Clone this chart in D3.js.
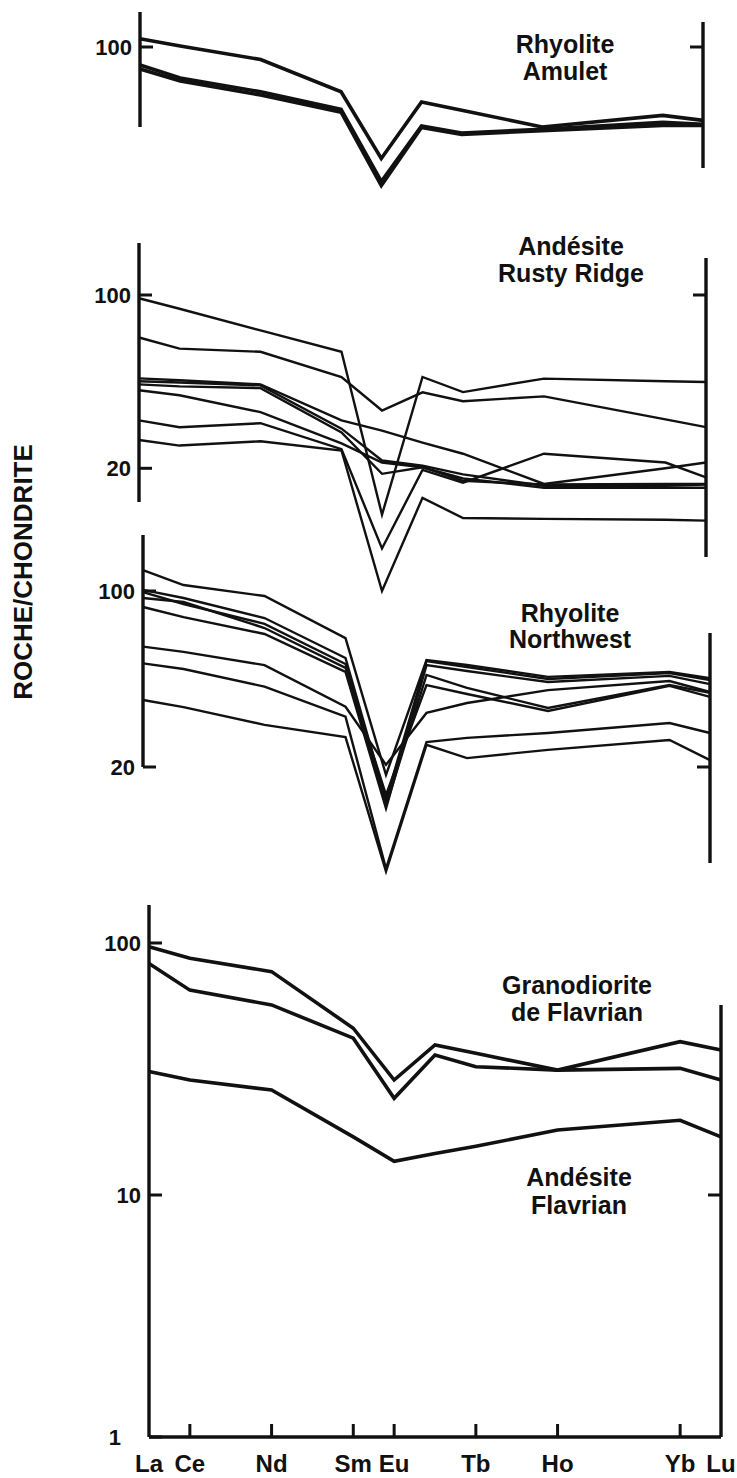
<!DOCTYPE html>
<html><head><meta charset="utf-8">
<script src="https://cdn.jsdelivr.net/npm/d3@7"></script>
<style>body{margin:0;background:#fff}svg{display:block}</style>
</head><body><svg id="c" width="737" height="1478"></svg>
<script>
// Elements carried by every sample (chondrite-normalised REE pattern)
const elements = ["La","Ce","Nd","Sm","Eu","Gd","Tb","Ho","Yb","Lu"];
const atomicNumbers = [57,58,60,62,63,64,65,67,70,71];
// Labelled positions on the bottom axis
const axisElements = ["La","Ce","Nd","Sm","Eu","Tb","Ho","Yb","Lu"];
const axisAtomicNumbers = [57,58,60,62,63,65,67,70,71];

// Rock / chondrite values, one array per sample, in the order of `elements`
const amuletSamples = [
  [108,101,89,66,35.5,60,55.6,47.6,53,50.6],
  [84.6,75,66,56,28.7,48,45,46.6,49.7,48.8],
  [81.5,73,64,54.6,27.6,47.4,44.4,46,48.3,48.3]
];
const rustyRidgeSamples = [
  [97,88,72,59,13,46.7,40.6,46,44.9,44.6],
  [67.4,60.8,59,46.7,34.2,40.5,37.3,39,31.5,29.3],
  [46.1,45.3,43.6,31.2,28.4,25.4,22.9,17.3,20,21.1],
  [44.9,44.4,43.2,28.9,21.5,20.5,18.9,17,17,17.2],
  [43.6,42.8,42.1,27.9,19,20.2,18.2,16.7,16.7,16.7],
  [41.3,39.4,33.7,25.2,21.1,20.2,17.8,17.2,17.3,17.3],
  [31.2,29.3,30.4,23.9,9.5,19.7,17.5,22.9,21.1,18.4],
  [26,24.7,25.7,23.6,6.4,15.2,12.6,12.5,12.4,12.3]
];
const northwestSamples = [
  [121,105.6,95.5,65,18.6,53.2,50.8,45.6,47.7,45.1],
  [101,93.8,78.1,54.2,14.8,52.7,49.9,44.7,47.2,44.3],
  [99,88.8,74,51.3,14,46.4,41.2,34.3,42.3,39.4],
  [93.8,90.4,71.3,49.5,15.5,42.3,39,33.4,42,38],
  [86.4,78.8,67.5,47.7,13.7,50.8,48.1,43.5,46,42.7],
  [60.1,57.3,50.8,34.7,20.4,32.8,35.9,40.4,43.9,39.7],
  [51.6,49,41.7,31.7,7.9,25.1,26.1,27.3,29.9,27.3],
  [36.9,34.6,29.4,26.3,7.7,24.5,21.7,23.4,25.6,21.3]
];
const flavrianGranodioriteSamples = [
  [96.7,87,77,45.9,28.6,39.4,36.5,31.3,40.6,37.6],
  [83,65,56.8,41.9,24.2,35.9,32.3,31.3,31.8,28.6]
];
const flavrianAndesiteSamples = [
  [30.9,28.6,26.1,17,13.6,14.6,15.6,18.1,19.8,17]
];

const leftTicks1 = [100], rightTicks1 = [100];
const leftTicks2 = [100, 20], rightTicks2 = [100];
const leftTicks3 = [100, 20], rightTicks3 = [20];
const leftTicks4 = [100, 10, 1], rightTicks4 = [10];

const svg = d3.select("#c");
const FONT = "'Liberation Sans', Arial, Helvetica, sans-serif";
const INK = "#111";

const panels = [
  {samples:[amuletSamples], x0:140, x1:703, yDom:[10,100], yRng:[295,47],
   left:[12,127], lt:leftTicks1, right:[22,168], rt:rightTicks1, sw:3.6,
   titles:[{t:["Rhyolite","Amulet"], x:565, y:[53,80]}]},
  {samples:[rustyRidgeSamples], x0:139, x1:706, yDom:[20,100], yRng:[468.3,295],
   left:[243,502], lt:leftTicks2, right:[258,557], rt:rightTicks2, sw:2.4,
   titles:[{t:["Andésite","Rusty Ridge"], x:571, y:[255,282]}]},
  {samples:[northwestSamples], x0:143, x1:710, yDom:[20,100], yRng:[767,591],
   left:[535,767], lt:leftTicks3, right:[633,863], rt:rightTicks3, sw:2.4,
   titles:[{t:["Rhyolite","Northwest"], x:570, y:[622,648]}]},
  {samples:[flavrianGranodioriteSamples, flavrianAndesiteSamples], x0:149, x1:721,
   yDom:[1,10,100], yRng:[1437,1195,943],
   left:[905,1437], lt:leftTicks4, right:[1005,1437], rt:rightTicks4, sw:3.6,
   titles:[{t:["Granodiorite","de Flavrian"], x:577, y:[994,1021]},
           {t:["Andésite","Flavrian"], x:579, y:[1186,1214]}],
   bottom:true}
];

panels.forEach(p => {
  const x = d3.scaleLinear().domain([57,71]).range([p.x0, p.x1]);
  const y = d3.scaleLog().domain(p.yDom).range(p.yRng);
  const g = svg.append("g");
  const line = d3.line().x((d,i)=>x(atomicNumbers[i])).y(d=>y(d));

  p.samples.forEach(group => {
    g.selectAll(null).data(group).enter().append("path")
      .attr("d", line).attr("fill","none").attr("stroke",INK)
      .attr("stroke-width",p.sw).attr("stroke-linejoin","miter").attr("stroke-miterlimit",6);
  });

  // left axis
  g.append("line").attr("x1",p.x0).attr("x2",p.x0).attr("y1",p.left[0]).attr("y2",p.left[1])
    .attr("stroke",INK).attr("stroke-width",3.4);
  p.lt.forEach(v => {
    g.append("line").attr("x1",p.x0).attr("x2",p.x0+13).attr("y1",y(v)).attr("y2",y(v))
      .attr("stroke",INK).attr("stroke-width",3);
    g.append("text").attr("x", v === 1 ? p.x0-28 : p.x0-8).attr("y",y(v)).attr("dy","0.36em")
      .attr("text-anchor","end").attr("font-family",FONT).attr("font-size",22)
      .attr("font-weight","bold").attr("fill",INK).text(v);
  });
  // right axis
  g.append("line").attr("x1",p.x1).attr("x2",p.x1).attr("y1",p.right[0]).attr("y2",p.right[1])
    .attr("stroke",INK).attr("stroke-width",3.4);
  p.rt.forEach(v => {
    g.append("line").attr("x1",p.x1-13).attr("x2",p.x1).attr("y1",y(v)).attr("y2",y(v))
      .attr("stroke",INK).attr("stroke-width",3);
  });
  // titles
  p.titles.forEach(tt => {
    tt.t.forEach((s,i) => {
      g.append("text").attr("x",tt.x).attr("y",tt.y[i]).attr("text-anchor","middle")
        .attr("font-family",FONT).attr("font-size",25).attr("font-weight","bold")
        .attr("fill",INK).text(s);
    });
  });
  if (p.bottom) {
    const yb = y(1);
    g.append("line").attr("x1",p.x0).attr("x2",p.x1).attr("y1",yb).attr("y2",yb)
      .attr("stroke",INK).attr("stroke-width",3.4);
    axisAtomicNumbers.forEach((z,i) => {
      if (z !== 57 && z !== 71) {
        g.append("line").attr("x1",x(z)).attr("x2",x(z)).attr("y1",yb).attr("y2",yb-13)
          .attr("stroke",INK).attr("stroke-width",3);
      }
      g.append("text").attr("x",x(z)).attr("y",1472).attr("text-anchor","middle")
        .attr("font-family",FONT).attr("font-size",24).attr("font-weight","bold")
        .attr("fill",INK).text(axisElements[i]);
    });
  }
});

svg.append("text").attr("transform","translate(32,572) rotate(-90)")
  .attr("text-anchor","middle").attr("font-family",FONT).attr("font-size",26)
  .attr("font-weight","bold").attr("fill",INK).text("ROCHE/CHONDRITE");
</script></body></html>
